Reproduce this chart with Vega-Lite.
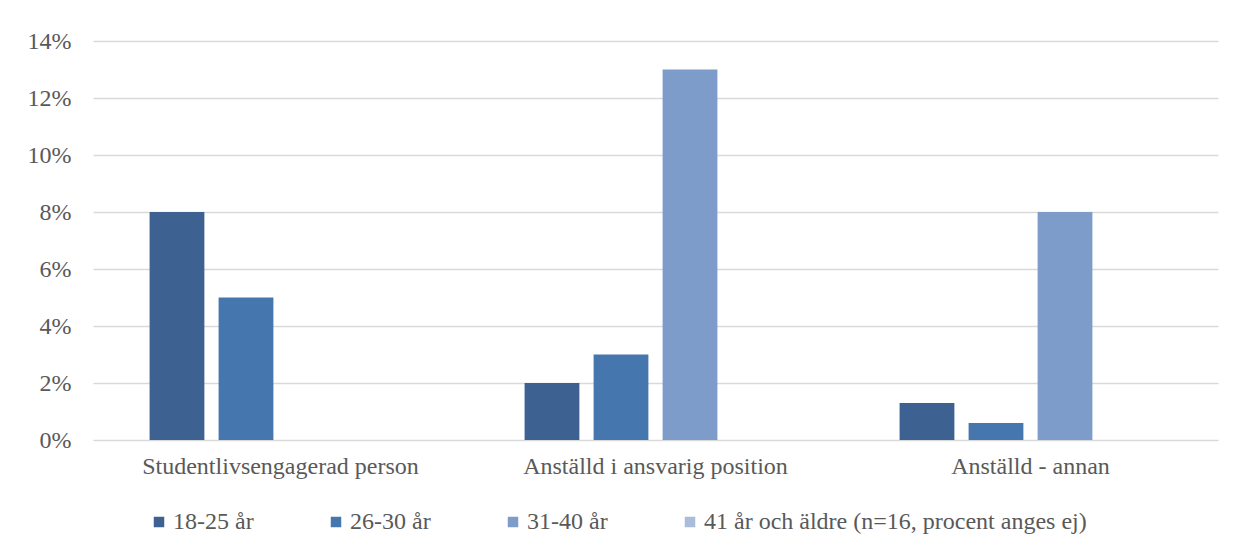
{
  "$schema": "https://vega.github.io/schema/vega-lite/v6.json",
  "width": 1125,
  "height": 399,
  "autosize": {"type": "none"},
  "padding": {"left": 93, "top": 41, "right": 21, "bottom": 113},
  "background": "white",
  "data": {
    "values": [
      {"kategori": "Studentlivsengagerad person", "grupp": "18-25 år", "andel": 0.08},
      {"kategori": "Studentlivsengagerad person", "grupp": "26-30 år", "andel": 0.05},
      {"kategori": "Anställd i ansvarig position", "grupp": "18-25 år", "andel": 0.02},
      {"kategori": "Anställd i ansvarig position", "grupp": "26-30 år", "andel": 0.03},
      {"kategori": "Anställd i ansvarig position", "grupp": "31-40 år", "andel": 0.13},
      {"kategori": "Anställd - annan", "grupp": "18-25 år", "andel": 0.013},
      {"kategori": "Anställd - annan", "grupp": "26-30 år", "andel": 0.006},
      {"kategori": "Anställd - annan", "grupp": "31-40 år", "andel": 0.08}
    ]
  },
  "mark": {"type": "bar"},
  "encoding": {
    "x": {
      "field": "kategori",
      "type": "nominal",
      "sort": ["Studentlivsengagerad person", "Anställd i ansvarig position", "Anställd - annan"],
      "scale": {"paddingInner": 0, "paddingOuter": 0},
      "axis": {
        "title": null,
        "labelAngle": 0,
        "domain": false,
        "ticks": false,
        "labelPadding": 14,
        "labelLimit": 500,
        "labelFont": "Liberation Serif",
        "labelFontSize": 24,
        "labelColor": "#595959"
      }
    },
    "xOffset": {
      "field": "grupp",
      "type": "nominal",
      "scale": {
        "domain": ["18-25 år", "26-30 år", "31-40 år", "41 år och äldre (n=16, procent anges ej)"],
        "paddingInner": 0.206,
        "paddingOuter": 0.82
      }
    },
    "y": {
      "field": "andel",
      "type": "quantitative",
      "scale": {"domain": [0, 0.14], "nice": false},
      "axis": {
        "title": null,
        "format": ".0%",
        "values": [0, 0.02, 0.04, 0.06, 0.08, 0.1, 0.12, 0.14],
        "domain": false,
        "ticks": false,
        "labelPadding": 22,
        "labelFont": "Liberation Serif",
        "labelFontSize": 24,
        "labelColor": "#595959",
        "gridColor": "#d9d9d9",
        "gridWidth": 1.5
      }
    },
    "color": {
      "field": "grupp",
      "type": "nominal",
      "scale": {
        "domain": ["18-25 år", "26-30 år", "31-40 år", "41 år och äldre (n=16, procent anges ej)"],
        "range": ["#3d6190", "#4676ae", "#7d9cc9", "#a9bcdb"]
      },
      "legend": {
        "title": null,
        "orient": "none",
        "direction": "horizontal",
        "legendX": 54,
        "legendY": 469,
        "symbolType": "square",
        "symbolSize": 110,
        "symbolStrokeWidth": 0,
        "labelOffset": 2,
        "columnPadding": 70,
        "labelLimit": 600,
        "labelFont": "Liberation Serif",
        "labelFontSize": 24,
        "labelColor": "#595959"
      }
    }
  },
  "config": {"view": {"stroke": null}}
}
